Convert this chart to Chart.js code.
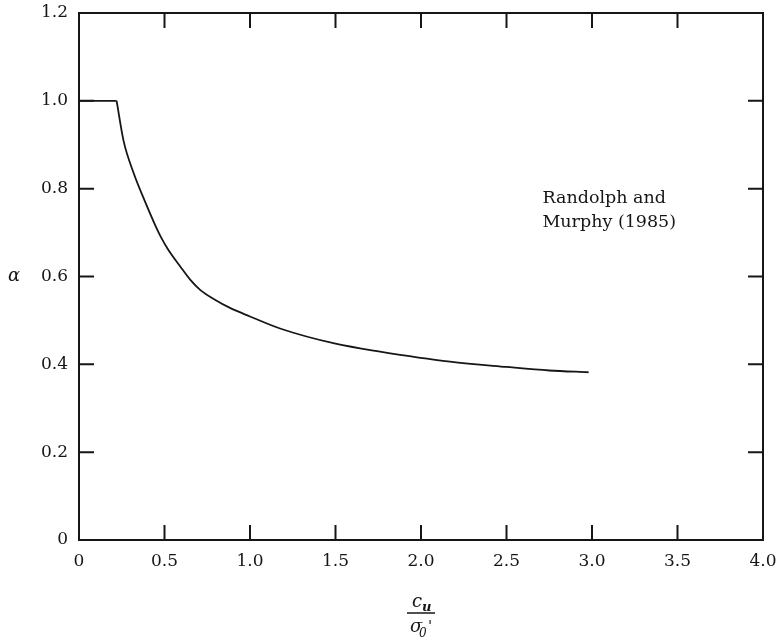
<!DOCTYPE html>
<html>
<head>
<meta charset="utf-8">
<title>Randolph and Murphy (1985) alpha</title>
<script src="https://cdn.jsdelivr.net/npm/chart.js@4.4.1/dist/chart.umd.min.js"></script>
<style>
  html, body { margin: 0; padding: 0; background: #fff; }
  #wrap { width: 781px; height: 642px; position: relative; }
</style>
</head>
<body>
<div id="wrap"><canvas id="alphaChart"></canvas></div>
<script>
// axis ticks
const xTicks = [0, 0.5, 1.0, 1.5, 2.0, 2.5, 3.0, 3.5, 4.0];
const yTicks = [0, 0.2, 0.4, 0.6, 0.8, 1.0, 1.2];

// flat part (alpha = 1) then the decaying curve
const flatX = [0, 0.22];
const flatY = [1.0, 1.0];
const curveX = [0.22, 0.26, 0.32, 0.39, 0.45, 0.48, 0.52, 0.59, 0.65, 0.71, 0.8, 0.88, 1.0, 1.18, 1.5, 1.76, 2.17, 2.5, 2.75, 2.98];
const curveY = [1.0, 0.91, 0.835, 0.767, 0.713, 0.689, 0.662, 0.624, 0.593, 0.569, 0.546, 0.529, 0.509, 0.481, 0.447, 0.429, 0.406, 0.394, 0.386, 0.382];

const noteLines = ['Randolph and', 'Murphy (1985)'];
const noteX = 2.71;
const noteY = [0.768, 0.713];

const serif = "'DejaVu Serif', 'Liberation Serif', serif";
const ink = '#161616';

const toPoints = (xs, ys) => xs.map((x, i) => ({ x, y: ys[i] }));
const fmtTick = (v) => (v === 0 ? '0' : v.toFixed(1));

// frame, inward tick marks, axis titles and the note
const framePlugin = {
  id: 'frame',
  afterDraw(chart) {
    const { ctx, chartArea: a, scales } = chart;
    const xs = scales.x, ys = scales.y;
    const tl = 15;
    ctx.save();
    ctx.strokeStyle = ink;
    ctx.lineWidth = 2;
    ctx.strokeRect(a.left, a.top, a.right - a.left, a.bottom - a.top);

    ctx.beginPath();
    xTicks.slice(1, -1).forEach(v => {
      const px = xs.getPixelForValue(v);
      ctx.moveTo(px, a.bottom); ctx.lineTo(px, a.bottom - tl);
      ctx.moveTo(px, a.top); ctx.lineTo(px, a.top + tl);
    });
    yTicks.slice(1, -1).forEach(v => {
      const py = ys.getPixelForValue(v);
      ctx.moveTo(a.left, py); ctx.lineTo(a.left + tl, py);
      ctx.moveTo(a.right, py); ctx.lineTo(a.right - tl, py);
    });
    ctx.stroke();

    ctx.fillStyle = ink;
    // y title
    ctx.font = 'italic 18px ' + serif;
    ctx.textAlign = 'center';
    ctx.textBaseline = 'middle';
    ctx.fillText('\u03b1', 14, ys.getPixelForValue(0.6));

    // x title as a fraction c_u / sigma_0'
    const cx = (a.left + a.right) / 2;
    const top = a.bottom;
    ctx.textBaseline = 'alphabetic';
    ctx.textAlign = 'left';
    ctx.font = 'italic 18px ' + serif;
    ctx.fillText('c', cx - 9, top + 67);
    ctx.font = 'bold italic 13px ' + serif;
    ctx.fillText('u', cx + 1, top + 71);
    ctx.lineWidth = 1.5;
    ctx.beginPath();
    ctx.moveTo(cx - 14, top + 73);
    ctx.lineTo(cx + 14, top + 73);
    ctx.stroke();
    ctx.font = 'italic 18px ' + serif;
    ctx.fillText('\u03c3', cx - 11, top + 92);
    ctx.font = 'italic 12px ' + serif;
    ctx.fillText('0', cx - 2, top + 97);
    ctx.font = '15px ' + serif;
    ctx.fillText("'", cx + 7, top + 91);

    // note
    ctx.font = '17.5px ' + serif;
    noteLines.forEach((t, i) => {
      ctx.fillText(t, xs.getPixelForValue(noteX), ys.getPixelForValue(noteY[i]));
    });
    ctx.restore();
  }
};

const lineStyle = {
  borderColor: ink,
  borderWidth: 1.8,
  pointRadius: 0,
  showLine: true,
  fill: false,
};

new Chart(document.getElementById('alphaChart'), {
  type: 'scatter',
  data: {
    datasets: [
      { label: 'flat', data: toPoints(flatX, flatY), ...lineStyle, tension: 0 },
      { label: 'curve', data: toPoints(curveX, curveY), ...lineStyle, cubicInterpolationMode: 'monotone' },
    ],
  },
  options: {
    responsive: true,
    maintainAspectRatio: false,
    animation: false,
    layout: { padding: { left: 0, right: 18, top: 13, bottom: 0 } },
    plugins: { legend: { display: false }, tooltip: { enabled: false } },
    scales: {
      x: {
        type: 'linear',
        min: 0,
        max: 4,
        afterFit: (s) => { s.height = 102; s.paddingLeft = 0; s.paddingRight = 0; },
        afterBuildTicks: (s) => { s.ticks = xTicks.map(v => ({ value: v })); },
        grid: { display: false, drawTicks: false },
        border: { display: false },
        ticks: { callback: fmtTick, color: ink, padding: 11, maxRotation: 0, font: { family: serif, size: 17 } },
      },
      y: {
        type: 'linear',
        min: 0,
        max: 1.2,
        afterFit: (s) => { s.width = 79; s.paddingTop = 0; s.paddingBottom = 0; },
        afterBuildTicks: (s) => { s.ticks = yTicks.map(v => ({ value: v })); },
        grid: { display: false, drawTicks: false },
        border: { display: false },
        ticks: { callback: fmtTick, color: ink, padding: 11, font: { family: serif, size: 17 } },
      },
    },
  },
  plugins: [framePlugin],
});
</script>
</body>
</html>
